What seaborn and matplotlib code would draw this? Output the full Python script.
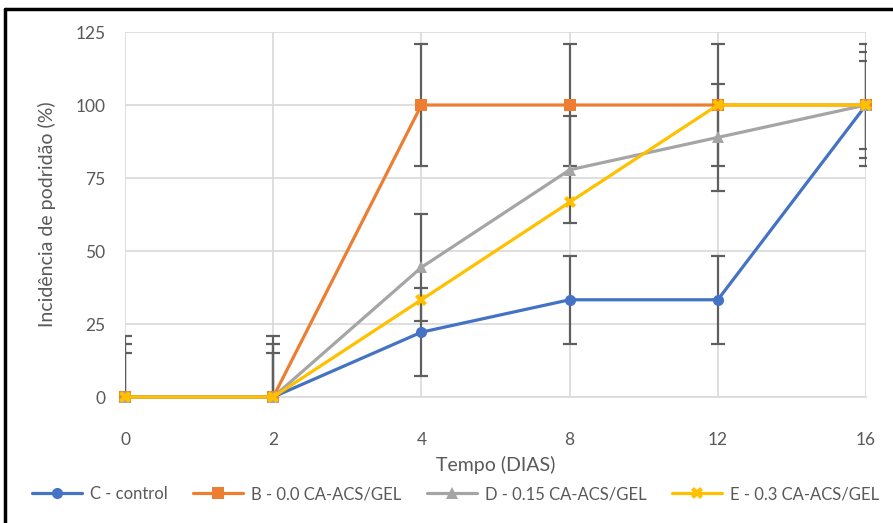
import seaborn as sns
import matplotlib.pyplot as plt
import pandas as pd
import numpy as np

# dias de avaliação (eixo categórico, como no Excel)
dias = ['0', '2', '4', '8', '12', '16']

series = ['C - control', 'B - 0.0 CA-ACS/GEL', 'D - 0.15 CA-ACS/GEL', 'E - 0.3 CA-ACS/GEL']
c_control = [0, 0, 22.2, 33.3, 33.3, 100]
b_00 = [0, 0, 100, 100, 100, 100]
d_015 = [0, 0, 44.4, 77.8, 88.9, 100]
e_03 = [0, 0, 33.3, 66.7, 100, 100]

# erro (mesmo valor em todos os dias); E sem barras de erro
erro_c = [15, 15, 15, 15, 15, 15]
erro_b = [21, 21, 21, 21, 21, 21]
erro_d = [18.3, 18.3, 18.3, 18.3, 18.3, 18.3]

cores = ['#4472C4', '#ED7D31', '#A5A5A5', '#FFC000']
marcadores = ['o', 's', '^', 'X']

sns.set_style('white')
plt.rcParams['font.family'] = ['Lato', 'DejaVu Sans']

pos = np.arange(len(dias))
df = pd.DataFrame({
    'pos': np.tile(pos, 4),
    'valor': c_control + b_00 + d_015 + e_03,
    'serie': np.repeat(series, len(dias)),
})

fig = plt.figure(figsize=(8.93, 5.23), dpi=100)
ax = fig.add_axes([0.14, 0.2409, 0.8298, 0.6979])

# barras de erro atrás das linhas
for vals, err in [(b_00, erro_b), (d_015, erro_d), (c_control, erro_c)]:
    ax.errorbar(pos, vals, yerr=err, fmt='none', ecolor='#5f5f5f',
                elinewidth=1.6, capsize=5, capthick=1.6, zorder=2)

sns.lineplot(data=df, x='pos', y='valor', hue='serie', style='serie',
             hue_order=series, style_order=series, palette=cores,
             markers=dict(zip(series, marcadores)), dashes=False,
             linewidth=2.3, markersize=8, markeredgewidth=0,
             ax=ax, zorder=3, legend=True, clip_on=False)

ax.set_xlim(0, 5)
ax.set_ylim(0, 125)
ax.set_yticks([0, 25, 50, 75, 100, 125])
ax.set_xticks(pos)
ax.set_xticklabels(dias)
ax.grid(True, color='#D9D9D9', linewidth=1.2)
ax.set_axisbelow(True)
for s in ['top', 'right', 'left']:
    ax.spines[s].set_visible(False)
ax.spines['bottom'].set_color('#D9D9D9')
ax.spines['bottom'].set_linewidth(1.2)
ax.tick_params(axis='x', length=5, color='#D9D9D9', width=1.2,
               labelsize=12.5, labelcolor='#595959', pad=20)
ax.tick_params(axis='y', length=0, labelsize=12.5, labelcolor='#595959', pad=14)

ax.set_xlabel('Tempo (DIAS)', fontsize=14, color='#595959', labelpad=6)
ax.set_ylabel('Incidência de podridão (%)', fontsize=14, color='#595959', labelpad=14)

ax.get_legend().remove()
handles, labels = ax.get_legend_handles_labels()
fig.legend(handles, labels, loc='center', bbox_to_anchor=(0.51, 1 - 494 / 523),
           ncol=4, frameon=False, fontsize=12, handlelength=3.0,
           columnspacing=1.5, handletextpad=0.5, labelcolor='#595959')

# moldura cortada (só esquerda e topo visíveis)
fig.add_artist(plt.Line2D([0.006, 0.006], [0, 0.982], color='black', linewidth=2.5))
fig.add_artist(plt.Line2D([0.006, 1.0], [0.982, 0.982], color='black', linewidth=2.5))

fig.savefig('out.png', dpi=100)
